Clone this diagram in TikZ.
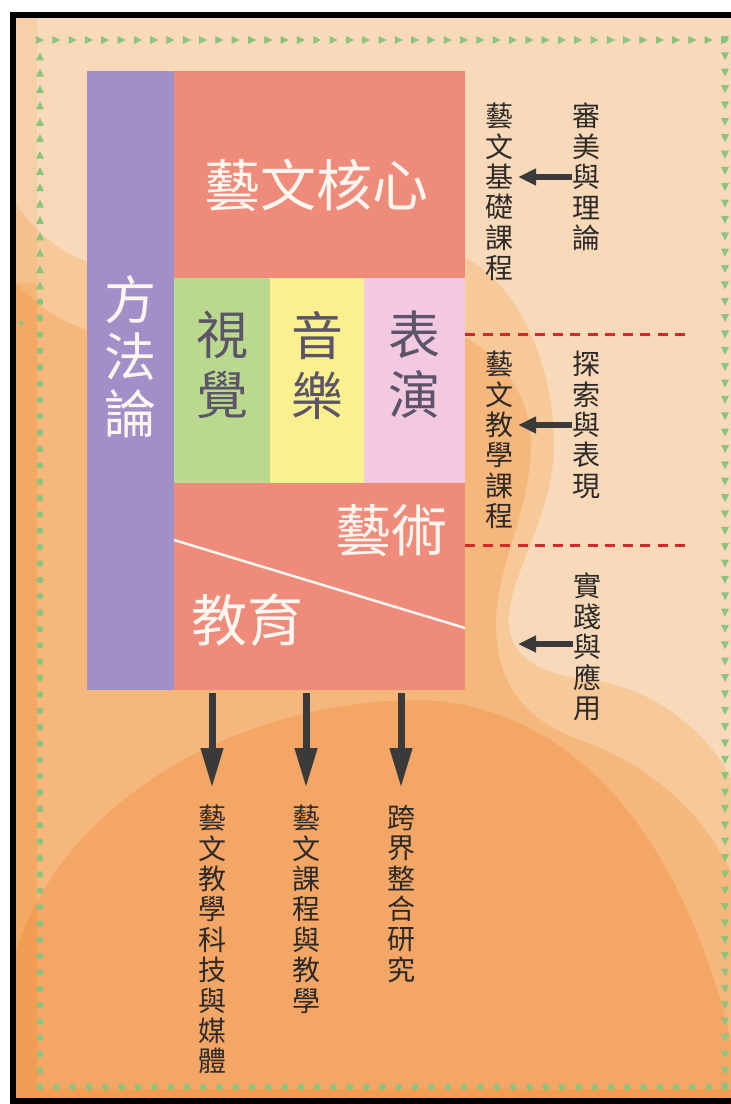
\documentclass[tikz,border=0pt]{standalone}
\usepackage{fontspec}
\newfontfamily\cjk{Noto Sans CJK TC}
\usetikzlibrary{arrows.meta}
\definecolor{bglight}{HTML}{F8DABB}
\definecolor{bgmida}{HTML}{F7C898}
\definecolor{bgmidb}{HTML}{F5B77B}
\definecolor{bgdark}{HTML}{F3A665}
\definecolor{stripc}{HTML}{F08A30}
\definecolor{purp}{HTML}{A190C8}
\definecolor{salmon}{HTML}{EF8B7A}
\definecolor{vgreen}{HTML}{BAD98F}
\definecolor{myellow}{HTML}{FAF08F}
\definecolor{ppink}{HTML}{F2C9E0}
\definecolor{dotgreen}{HTML}{8CC37D}
\definecolor{dashred}{HTML}{D12A2A}
\definecolor{ink}{HTML}{2E2A28}
\definecolor{arrowink}{HTML}{3A3A3A}
\definecolor{slate}{HTML}{5C5468}
\definecolor{softwhite}{HTML}{FFF6F0}
\begin{document}
\begin{tikzpicture}[x=1pt,y=-1pt,
  panel/.style={draw=none, inner sep=0pt, outer sep=0pt, rectangle},
  hbig/.style={inner sep=0pt, font=\cjk\fontsize{56}{60}\selectfont, text=softwhite},
  vbig/.style={inner sep=0pt, font=\cjk\fontsize{52}{60}\selectfont, align=center},
  vlabel/.style={inner sep=0pt, text=ink, font=\cjk\fontsize{28}{30.4}\selectfont, align=center},
  harrow/.style={draw=arrowink, line width=6pt, -{Triangle[length=18pt,width=16pt]}},
  varrow/.style={draw=arrowink, line width=7pt, -{Triangle[length=40pt,width=21pt]}},
  sepline/.style={draw=dashred, line width=3pt, dash pattern=on 10pt off 7.5pt},
]
\useasboundingbox (0,0) rectangle (731,1104);
\fill[white] (0,0) rectangle (731,1104);
% background layers
\fill[bglight] (16,18) rectangle (731,1098);
\fill[bgmida] (16,205) .. controls (40,238) and (68,258) .. (100,265) -- (450,262) -- (465,258)
  .. controls (515,282) and (553,360) .. (554,440)
  .. controls (555,510) and (515,565) .. (509,612)
  .. controls (505,655) and (535,674) .. (592,680)
  .. controls (650,688) and (705,728) .. (731,778) -- (731,1098) -- (16,1098) -- cycle;
\fill[bgmidb] (16,283) .. controls (40,308) and (65,326) .. (100,333) -- (450,335) -- (465,337)
  .. controls (505,360) and (531,400) .. (531,445)
  .. controls (531,505) and (500,560) .. (496,615)
  .. controls (494,680) and (520,718) .. (580,740)
  .. controls (650,765) and (702,812) .. (731,872) -- (731,1098) -- (16,1098) -- cycle;
\fill[bgdark] (16,950) .. controls (70,790) and (250,700) .. (420,700)
  .. controls (570,705) and (680,830) .. (731,1040) -- (731,1098) -- (16,1098) -- cycle;
\fill[stripc, opacity=0.12] (16,18) rectangle (37,283);
\fill[stripc, opacity=0.3] (16,283) rectangle (37,1098);
\fill[stripc, opacity=0.3] (37,1089) rectangle (731,1098);
% green marker border
\foreach \i in {0,...,42} {
  \fill[dotgreen] ({40+16.31*\i+4},40) -- ++(-8,-4) -- ++(0,8) -- cycle;
  \fill[dotgreen] ({40+16.31*\i},1087) circle (3.4);
}
\foreach \i in {0,...,64} {
  \fill[dotgreen] (725,{40+16.36*\i+4}) -- ++(-4,-8) -- ++(8,0) -- cycle;
}
\foreach \i in {1,...,15} {
  \fill[dotgreen] (40,{40+16.36*\i-4}) -- ++(-4,8) -- ++(8,0) -- cycle;
}
\foreach \i in {16,...,64} {
  \fill[dotgreen] (40,{40+16.36*\i}) circle (3.4);
}
\fill[dotgreen] (21,323) circle (2.5);
% black frame
\draw[black, line width=6.5pt] (13,15) rectangle (760,1101);
% panels
\node[panel, fill=purp, minimum width=87pt, minimum height=619pt] (method) at (130.5,380.5) {};
\node[panel, fill=salmon, minimum width=291pt, minimum height=207pt] (core) at (319.5,174.5) {};
\node[panel, fill=vgreen, minimum width=96pt, minimum height=205pt] (visual) at (222,380.5) {};
\node[panel, fill=myellow, minimum width=94pt, minimum height=205pt] (music) at (317,380.5) {};
\node[panel, fill=ppink, minimum width=101pt, minimum height=205pt] (perform) at (414.5,380.5) {};
\node[panel, fill=salmon, minimum width=291pt, minimum height=207pt] (arted) at (319.5,586.5) {};
\coordinate (dl) at (174,540);
\coordinate (dr) at (465,628);
\draw[softwhite, line width=2.5pt] (dl) -- (dr);
% panel texts
\node[hbig] (coretxt) at (316,185) {藝文核心};
\node[hbig] (arttxt) at (391,531) {藝術};
\node[hbig] (edutxt) at (247,620) {教育};
\node[vbig, text=slate] (vistxt) at (222,365) {視\\覺};
\node[vbig, text=slate] (mustxt) at (317,365) {音\\樂};
\node[vbig, text=slate] (pertxt) at (414,365) {表\\演};
\node[vbig, text=softwhite, font=\cjk\fontsize{52}{57}\selectfont] (methtxt) at (130,357) {方\\法\\論};
% side labels
\node[vlabel] (basic) at (499,192) {藝\\文\\基\\礎\\課\\程};
\node[vlabel] (aesth) at (586,177) {審\\美\\與\\理\\論};
\node[vlabel] (teach) at (499,440) {藝\\文\\教\\學\\課\\程};
\node[vlabel] (explore) at (586,425) {探\\索\\與\\表\\現};
\node[vlabel] (practice) at (587,647) {實\\踐\\與\\應\\用};
\node[vlabel, anchor=north] (bot1) at (212,805) {藝\\文\\教\\學\\科\\技\\與\\媒\\體};
\node[vlabel, anchor=north] (bot2) at (306,805) {藝\\文\\課\\程\\與\\教\\學};
\node[vlabel, anchor=north] (bot3) at (401,805) {跨\\界\\整\\合\\研\\究};
% separators
\coordinate (s1a) at (465,334);
\coordinate (s1b) at (692,334);
\coordinate (s2a) at (465,545);
\coordinate (s2b) at (692,545);
\draw[sepline] (s1a) -- (s1b);
\draw[sepline] (s2a) -- (s2b);
% arrows
\draw[harrow, shorten >=5pt] (aesth.west) -- (aesth.west -| basic.east);
\draw[harrow, shorten >=5pt] (explore.west) -- (explore.west -| teach.east);
\coordinate (pend) at (518,644);
\draw[harrow] (practice.west |- pend) -- (pend);
\draw[varrow, shorten <=3pt, shorten >=17pt] (arted.south -| bot1.north) -- (bot1.north);
\draw[varrow, shorten <=3pt, shorten >=17pt] (arted.south -| bot2.north) -- (bot2.north);
\draw[varrow, shorten <=3pt, shorten >=17pt] (arted.south -| bot3.north) -- (bot3.north);
\end{tikzpicture}
\end{document}
